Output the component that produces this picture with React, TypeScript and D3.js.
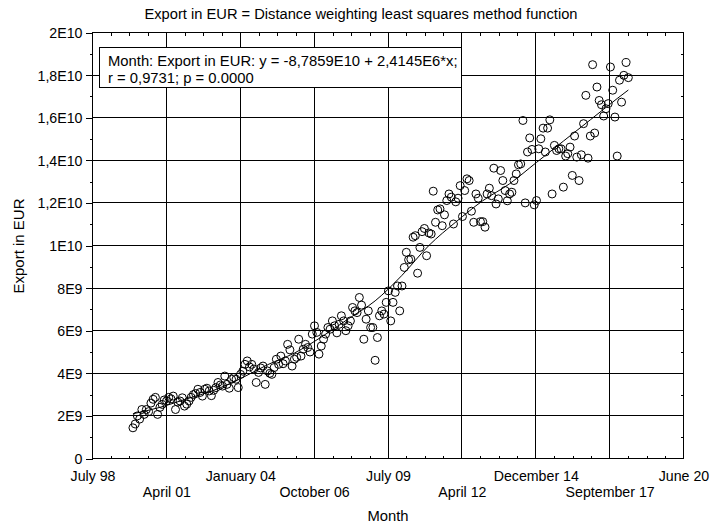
import React from "react";
import * as d3 from "d3";

// monthly export values in billions of EUR
const y2000 = [1.44, 1.62, 2.0, 1.85, 2.3, 2.07, 2.3, 2.2, 2.6, 2.78, 2.87, 2.07];
const y2001 = [2.4, 2.54, 2.75, 2.7, 2.87, 2.8, 2.93, 2.3, 2.65, 2.7, 2.85, 2.46];
const y2002 = [2.55, 2.7, 2.87, 3.0, 3.05, 3.25, 3.1, 2.93, 3.25, 3.3, 3.17, 2.95];
const y2003 = [3.2, 3.33, 3.57, 3.45, 3.4, 3.87, 3.48, 3.3, 3.72, 3.8, 3.72, 3.33];
const y2004 = [3.95, 4.1, 4.42, 4.58, 4.3, 4.42, 4.2, 3.57, 4.04, 4.25, 4.34, 3.48];
const y2005 = [4.11, 4.0, 3.95, 4.27, 4.66, 4.42, 4.81, 4.45, 4.58, 5.36, 5.1, 4.34];
const y2006 = [4.66, 4.75, 5.6, 4.81, 5.13, 5.36, 5.21, 5.0, 5.84, 6.23, 5.92, 4.9];
const y2007 = [5.28, 5.6, 5.84, 6.15, 6.07, 6.46, 6.23, 5.9, 6.3, 6.7, 6.46, 6.0];
const y2008 = [6.23, 6.46, 7.09, 6.93, 6.85, 7.56, 7.2, 5.6, 6.54, 6.93, 6.15, 6.15];
const y2009 = [4.61, 5.68, 6.7, 6.93, 6.78, 7.33, 7.87, 6.46, 7.33, 7.8, 8.1, 6.93];
const y2010 = [8.1, 8.97, 9.68, 9.33, 9.36, 10.39, 10.46, 8.7, 9.91, 10.65, 10.8, 9.52];
const y2011 = [10.59, 10.54, 12.55, 11.09, 11.67, 11.72, 10.93, 11.44, 12.11, 12.42, 12.27, 11.01];
const y2012 = [12.05, 12.22, 12.81, 11.36, 12.58, 13.13, 13.05, 11.61, 11.09, 12.42, 12.22, 11.12];
const y2013 = [11.12, 10.86, 12.42, 12.69, 12.34, 13.63, 11.95, 12.19, 13.52, 13.05, 12.58, 12.1];
const y2014 = [12.42, 12.5, 13.05, 13.36, 13.79, 13.83, 15.87, 12.0, 14.39, 15.05, 14.51, 11.91];
const y2015 = [12.11, 14.54, 15.01, 15.51, 14.39, 15.51, 15.9, 12.42, 14.7, 14.46, 14.54, 14.54];
const y2016 = [12.74, 14.2, 14.31, 14.62, 13.29, 15.14, 14.15, 13.05, 14.26, 15.72, 17.05, 14.1];
const y2017 = [15.14, 18.49, 15.28, 17.44, 16.81, 16.61, 16.08, 16.42, 16.66, 18.38, 17.29, 16.03];
const y2018 = [14.2, 17.76, 16.73, 17.99, 18.59, 17.88];

const exportValues = [
    ...y2000, ...y2001, ...y2002, ...y2003, ...y2004, ...y2005, ...y2006,
    ...y2007, ...y2008, ...y2009, ...y2010, ...y2011, ...y2012, ...y2013,
    ...y2014, ...y2015, ...y2016, ...y2017, ...y2018,
];

// distance weighted least squares fit, sampled yearly (billions of EUR)
const fitMonths = ["2000-01", "2001-01", "2002-01", "2003-01", "2004-01", "2005-01", "2006-01",
    "2007-01", "2008-01", "2009-01", "2010-01", "2011-01", "2012-01", "2013-01", "2014-01",
    "2015-01", "2016-01", "2017-01", "2018-01", "2018-06"];
const fitValues = [2.1, 2.4, 2.8, 3.2, 3.75, 4.4, 4.95, 5.7, 6.55, 7.4, 8.6, 10.0, 11.1, 12.1,
    12.9, 13.9, 14.9, 15.9, 16.9, 17.3];

const xTickLabels = ["July 98", "April 01", "January 04", "October 06", "July 09",
    "April 12", "December 14", "September 17", "June 20"];
const yTickLabels = ["0", "2E9", "4E9", "6E9", "8E9", "1E10", "1,2E10", "1,4E10", "1,6E10", "1,8E10", "2E10"];

const title = "Export in EUR = Distance weighting least squares method function";
const legendLines = ["Month: Export in EUR: y = -8,7859E10 + 2,4145E6*x;", "r = 0,9731; p = 0.0000"];

const FONT = "'Liberation Sans', Arial, sans-serif";

const App = () => {
    const svgRef = React.useRef(null);
    const width = 710;
    const height = 527;
    const plot = { left: 92.5, right: 683.5, top: 32.5, bottom: 458.5 };

    React.useEffect(() => {
        const xStart = new Date(1998, 6, 1);
        const xEnd = new Date(2020, 5, 19);
        const span = xEnd.getTime() - xStart.getTime();
        const xScale = d3.scaleTime().domain([xStart, xEnd]).range([plot.left, plot.right]);
        const yScale = d3.scaleLinear().domain([0, 2e10]).range([plot.bottom, plot.top]);

        const xTicks = xTickLabels.map((_, i) => new Date(xStart.getTime() + (i * span) / 8));
        const xMinor = d3.range(32).filter((i) => i % 4 !== 0)
            .map((i) => new Date(xStart.getTime() + (i * span) / 32));
        const yTicks = yTickLabels.map((_, i) => i * 2e9);
        const yMinor = d3.range(1e9, 2e10, 2e9);

        const points = exportValues.map((v, i) => ({ date: new Date(2000, i, 1), value: v * 1e9 }));
        const parseMonth = d3.timeParse("%Y-%m");
        const fit = fitMonths.map((m, i) => ({ date: parseMonth(m), value: fitValues[i] * 1e9 }));

        const svg = d3.select(svgRef.current);
        svg.selectAll("*").remove();

        // grid lines
        const grid = svg.append("g").attr("stroke", "#000").attr("stroke-width", 1)
            .attr("shape-rendering", "crispEdges");
        grid.selectAll(".vgrid").data(xTicks.slice(1, -1)).enter().append("line")
            .attr("x1", (d) => xScale(d)).attr("x2", (d) => xScale(d))
            .attr("y1", plot.top).attr("y2", plot.bottom);
        grid.selectAll(".hgrid").data(yTicks.slice(1, -1)).enter().append("line")
            .attr("x1", plot.left).attr("x2", plot.right)
            .attr("y1", (d) => yScale(d)).attr("y2", (d) => yScale(d));

        // fitted curve
        const line = d3.line()
            .x((d) => xScale(d.date))
            .y((d) => yScale(d.value))
            .curve(d3.curveMonotoneX);
        svg.append("path").datum(fit)
            .attr("fill", "none").attr("stroke", "#000").attr("stroke-width", 1)
            .attr("d", line);

        // scatter
        svg.append("g").selectAll("circle").data(points).enter().append("circle")
            .attr("cx", (d) => xScale(d.date))
            .attr("cy", (d) => yScale(d.value))
            .attr("r", 4)
            .attr("fill", "none")
            .attr("stroke", "#000")
            .attr("stroke-width", 1);

        // frame
        svg.append("rect")
            .attr("x", plot.left).attr("y", plot.top)
            .attr("width", plot.right - plot.left).attr("height", plot.bottom - plot.top)
            .attr("fill", "none").attr("stroke", "#000").attr("shape-rendering", "crispEdges");

        const styleAxis = (g) => {
            g.select(".domain").remove();
            g.attr("font-family", FONT).attr("font-size", 14.2);
            g.selectAll("line").attr("stroke", "#000").attr("shape-rendering", "crispEdges");
            g.selectAll("text").attr("fill", "#000");
        };

        // Y axis with labels + minor ticks
        const yAxisGroup = svg.append("g").attr("transform", `translate(${plot.left},0)`)
            .call(d3.axisLeft(yScale).tickValues(yTicks).tickSize(7).tickPadding(3)
                .tickFormat((d, i) => yTickLabels[i]));
        styleAxis(yAxisGroup);
        yAxisGroup.selectAll("text").attr("dy", "0.35em");
        styleAxis(svg.append("g").attr("transform", `translate(${plot.left},0)`)
            .call(d3.axisLeft(yScale).tickValues(yMinor).tickSize(3).tickFormat(() => "")));
        styleAxis(svg.append("g").attr("transform", `translate(${plot.right},0)`)
            .call(d3.axisRight(yScale).tickValues(yMinor).tickSize(-3).tickFormat(() => "")));

        // X axis labels in two rows + minor ticks
        const xAxisGroup = svg.append("g").attr("transform", `translate(0,${plot.bottom})`)
            .call(d3.axisBottom(xScale).tickValues(xTicks).tickSize(0)
                .tickFormat((d, i) => xTickLabels[i]));
        styleAxis(xAxisGroup);
        xAxisGroup.selectAll("line").remove();
        xAxisGroup.selectAll("text").attr("dy", null).attr("y", (d, i) => (i % 2 === 0 ? 22.5 : 38.8));
        styleAxis(svg.append("g").attr("transform", `translate(0,${plot.bottom})`)
            .call(d3.axisBottom(xScale).tickValues(xMinor).tickSize(-3).tickFormat(() => "")));
        styleAxis(svg.append("g").attr("transform", `translate(0,${plot.top})`)
            .call(d3.axisTop(xScale).tickValues(xMinor).tickSize(-3).tickFormat(() => "")));

        // legend box
        svg.append("rect")
            .attr("x", 99.5).attr("y", 47.5).attr("width", 362).attr("height", 40)
            .attr("fill", "#fff").attr("stroke", "#000").attr("shape-rendering", "crispEdges");
        svg.append("g").selectAll("text").data(legendLines).enter().append("text")
            .attr("x", 108).attr("y", (d, i) => 65.5 + i * 17.4)
            .attr("font-family", FONT).attr("font-size", 14.8).attr("fill", "#000")
            .text((d) => d);

        // titles
        svg.append("text").attr("x", 361).attr("y", 19).attr("text-anchor", "middle")
            .attr("font-family", FONT).attr("font-size", 14.7).text(title);
        svg.append("text").attr("x", (plot.left + plot.right) / 2).attr("y", 521)
            .attr("text-anchor", "middle").attr("font-family", FONT).attr("font-size", 14.8)
            .text("Month");
        svg.append("text").attr("transform", "translate(23.5,246) rotate(-90)")
            .attr("text-anchor", "middle").attr("font-family", FONT).attr("font-size", 15)
            .text("Export in EUR");
    }, []);

    return (
        <svg ref={svgRef} width={width} height={height}
            style={{ position: "absolute", left: 0, top: 0, background: "#fff" }} />
    );
};

export default App;
